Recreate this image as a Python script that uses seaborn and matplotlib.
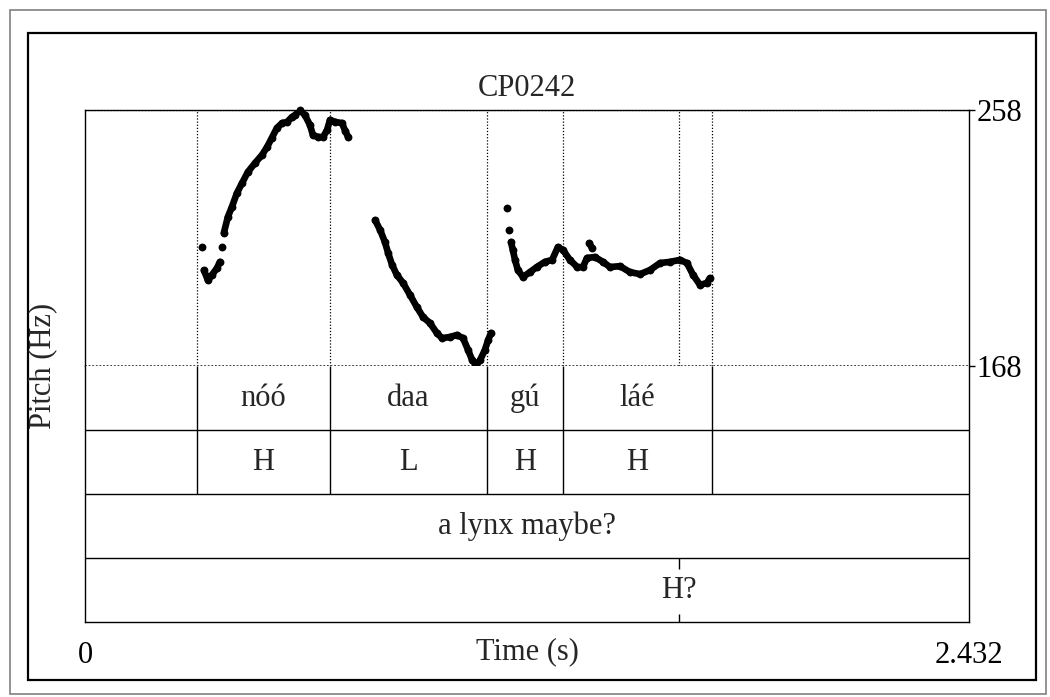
import numpy as np
import pandas as pd
import matplotlib
matplotlib.use("Agg")
import matplotlib.pyplot as plt
import seaborn as sns

# --- data ---
t_min, t_max = 0.0, 2.432
f_min, f_max = 168, 258

# pitch samples (s, Hz), grouped by voiced stretch
pitch_t = [
    0.322,
    0.327, 0.338, 0.349, 0.363, 0.371,
    0.377,
    0.382, 0.393, 0.404, 0.418, 0.432, 0.448, 0.468, 0.487, 0.501, 0.514, 0.528, 0.542,
    0.556, 0.569, 0.578, 0.591, 0.605, 0.619, 0.627, 0.641, 0.655, 0.666, 0.674, 0.688,
    0.707, 0.716, 0.724,
    0.798, 0.812, 0.825, 0.834, 0.845, 0.858, 0.875, 0.894, 0.913, 0.930, 0.949, 0.968,
    0.982, 1.004, 1.023, 1.040, 1.054, 1.065, 1.076, 1.087, 1.100, 1.109, 1.117,
    1.161,
    1.166,
    1.172, 1.177, 1.183, 1.191, 1.205, 1.224, 1.243, 1.265, 1.285, 1.301, 1.315, 1.334,
    1.354, 1.370, 1.381, 1.403, 1.425, 1.444, 1.472, 1.499, 1.527, 1.554, 1.582, 1.609,
    1.637, 1.656, 1.673, 1.692, 1.711, 1.719,
    1.387, 1.395,
]
pitch_hz = [
    209.8,
    201.7, 198.2, 200.0, 202.4, 204.6,
    209.8,
    214.8, 220.4, 223.9, 228.8, 232.3, 236.2, 239.4, 242.2, 245.0, 248.2, 251.7, 253.4,
    253.8, 255.5, 256.2, 258.0, 256.2, 252.7, 249.2, 248.5, 248.5, 251.0, 254.5, 253.8,
    253.4, 250.6, 248.5,
    219.3, 215.8, 211.6, 207.7, 203.5, 200.0, 197.2, 193.0, 188.7, 185.2, 183.1, 179.6,
    177.8, 178.2, 178.9, 177.8, 173.6, 170.1, 168.3, 170.1, 173.6, 177.1, 179.6,
    223.5,
    215.8,
    211.6, 208.8, 205.3, 201.7, 199.3, 201.0, 202.8, 204.6, 205.3, 209.8, 208.8, 205.3,
    202.8, 202.8, 206.0, 206.3, 204.6, 202.8, 203.1, 201.0, 200.3, 201.7, 204.2, 204.6,
    205.3, 204.2, 200.0, 196.5, 197.2, 198.9,
    211.2, 209.5,
]
pitch_run = ([0] + [1] * 5 + [2] + [3] * 27 + [4] * 23 + [5] + [6] + [7] * 30 + [8] * 2)

# TextGrid
word_bounds = [0.308, 0.674, 1.106, 1.315, 1.725]
words = ["nóó", "daa", "gú", "láé"]
tones = ["H", "L", "H", "H"]
sentence = "a lynx maybe?"
point_times = [1.634]
point_labels = ["H?"]
title = "CP0242"

df = pd.DataFrame({"time": pitch_t, "f0": pitch_hz, "run": pitch_run})

# --- figure ---
W, H = 1050, 697
fig = plt.figure(figsize=(W / 100, H / 100), dpi=100)
sns.set_style("white")
plt.rcParams["font.family"] = ["Liberation Serif", "DejaVu Serif"]
fs = 22


def fx(px):
    return px / W


def fy(py):
    return 1 - py / H


# outer frames
fig.patches.append(plt.Rectangle((fx(10), fy(694)), fx(1046) - fx(10), fy(10) - fy(694),
                                 transform=fig.transFigure, fill=False, ec="#808080", lw=1.2))
fig.patches.append(plt.Rectangle((fx(28), fy(680)), fx(1036) - fx(28), fy(33) - fy(680),
                                 transform=fig.transFigure, fill=False, ec="black", lw=1.6))

dot = (1, 1.5)
# pitch panel
ax = fig.add_axes([fx(85), fy(366), fx(969) - fx(85), fy(110) - fy(366)])
ax.set_xlim(t_min, t_max)
ax.set_ylim(f_min, f_max)
ax.vlines(word_bounds + point_times, f_min, f_max, colors="black", lw=0.9, linestyles=[(0, dot)])
ax.axhline(f_max, color="black", lw=0.9, ls=(0, dot))
ax.axhline(f_min, color="#333333", lw=1.3, ls=(0, (1, 1)), clip_on=False)
sns.lineplot(data=df, x="time", y="f0", units="run", estimator=None, sort=False,
             color="black", lw=4.8, ax=ax, legend=False, solid_capstyle="round")
sns.scatterplot(data=df, x="time", y="f0", color="black", s=32, linewidth=0, ax=ax, legend=False,
                clip_on=False)
for s in ["left", "right", "top"]:
    ax.spines[s].set_visible(True)
    ax.spines[s].set_color("black")
    ax.spines[s].set_linewidth(1.0)
ax.spines["bottom"].set_visible(False)
ax.set_xticks([])
ax.yaxis.tick_right()
ax.set_yticks([f_min, f_max])
ax.set_yticklabels([str(f_min), str(f_max)], fontsize=fs)
ax.tick_params(axis="y", direction="out", length=4.5, width=1.0, pad=1, colors="black")
ax.set_xlabel("")
ax.set_ylabel("")

# tiers
tx = fig.add_axes([fx(85), fy(622), fx(969) - fx(85), fy(366) - fy(622)])
tx.set_xlim(t_min, t_max)
tx.set_ylim(4, 0)
tx.axhline(1, color="black", lw=1.0)
tx.axhline(2, color="black", lw=1.0)
tx.axhline(3, color="black", lw=1.0)
tx.vlines(word_bounds, 0, 2, colors="black", lw=1.0)
tick_frac = 8 / 64
tx.vlines(point_times, 3, 3 + tick_frac * 1.4, colors="black", lw=1.0)
tx.vlines(point_times, 4 - tick_frac, 4, colors="black", lw=1.0)
mids = [(a + b) / 2 for a, b in zip(word_bounds[:-1], word_bounds[1:])]
for m, w, tn in zip(mids, words, tones):
    tx.text(m, 0.5, w, ha="center", va="center", fontsize=fs)
    tx.text(m, 1.5, tn, ha="center", va="center", fontsize=fs)
tx.text((t_min + t_max) / 2, 2.5, sentence, ha="center", va="center", fontsize=fs)
for p, lab in zip(point_times, point_labels):
    tx.text(p, 3.5, lab, ha="center", va="center", fontsize=fs,
            bbox=dict(fc="white", ec="none", pad=0.5))
for s in ["left", "right", "bottom"]:
    tx.spines[s].set_visible(True)
    tx.spines[s].set_color("black")
    tx.spines[s].set_linewidth(1.0)
tx.spines["top"].set_visible(False)
tx.set_yticks([])
tx.set_xticks([t_min, t_max])
tx.set_xticklabels(["0", f"{t_max:.3f}"], fontsize=fs)
tx.tick_params(axis="x", direction="out", length=6, width=1.0, pad=8, colors="black")

fig.text(fx(527), fy(89), title, ha="center", va="center", fontsize=fs)
fig.text(fx(527), fy(652), "Time (s)", ha="center", va="center", rotation=0, fontsize=fs)
fig.text(fx(43), fy(366), "Pitch (Hz)", ha="center", va="center", rotation=90, fontsize=fs)

fig.savefig("out.png", dpi=100)
